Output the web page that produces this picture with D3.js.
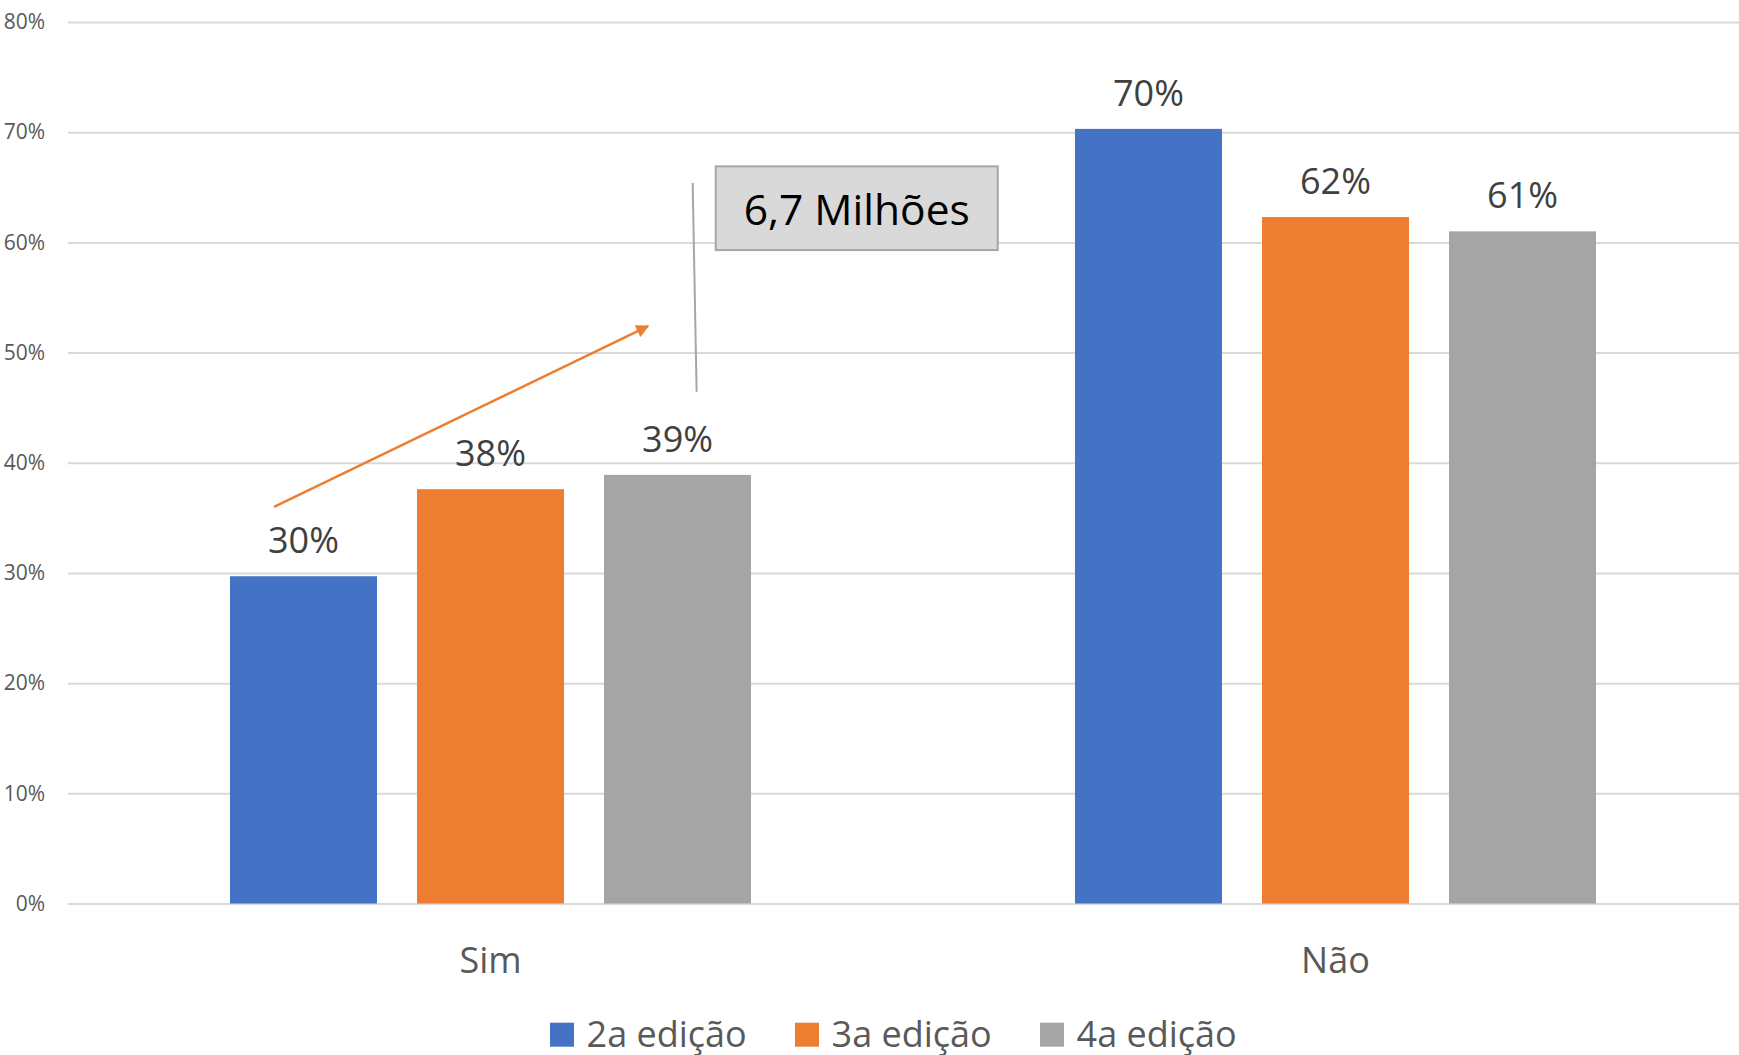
<!DOCTYPE html>
<html>
<head>
<meta charset="utf-8">
<title>Edições</title>
<script src="https://d3js.org/d3.v7.min.js"></script>
<style>
  body { margin: 0; background: #fff; }
  text { font-family: "Open Sans", sans-serif; }
</style>
</head>
<body>
<script>
var categories = ["Sim", "Não"];
var series = ["2a edição", "3a edição", "4a edição"];
var edicao2 = [0.297, 0.703];
var edicao3 = [0.376, 0.623];
var edicao4 = [0.389, 0.610];
var valueLabels = [["30%", "70%"], ["38%", "62%"], ["39%", "61%"]];
var yTicks = [0, 0.1, 0.2, 0.3, 0.4, 0.5, 0.6, 0.7, 0.8];
var calloutText = "6,7 Milhões";

var colors = ["#4472c4", "#ed7d31", "#a5a5a5"];
var seriesValues = [edicao2, edicao3, edicao4];

var chartW = 1739, chartH = 1055;
var plotLeft = 68, plotRight = 1758, plotTop = 22, plotBottom = 903.5;

var svg = d3.select("body").append("svg")
    .attr("width", chartW)
    .attr("height", chartH);

var x0 = d3.scaleBand().domain(categories).range([plotLeft, plotRight]).padding(0);
var bw = x0.bandwidth();
var x1 = d3.scaleBand().domain(series)
    .range([bw * 0.1917, bw * 0.8083])
    .paddingInner(0.214).paddingOuter(0);
var y = d3.scaleLinear().domain([0, 0.8]).range([plotBottom, plotTop]);

// gridlines
svg.append("g")
    .attr("transform", "translate(" + plotLeft + ",0)")
    .call(d3.axisLeft(y).tickValues(yTicks).tickSize(-(plotRight - plotLeft)).tickFormat(""))
    .call(g => g.select(".domain").remove())
    .call(g => g.selectAll("line").attr("stroke", "#d9d9d9").attr("stroke-width", 2));

// y labels
svg.append("g")
    .attr("transform", "translate(" + plotLeft + ",0)")
    .call(d3.axisLeft(y).tickValues(yTicks).tickSize(0).tickPadding(23).tickFormat(d3.format(".0%")))
    .call(g => g.select(".domain").remove())
    .call(g => g.selectAll("text").attr("fill", "#595959").style("font-size", "21px")
        .style("font-family", "'Open Sans', sans-serif"));

// bars
var rows = [];
series.forEach(function(s, i) {
  categories.forEach(function(c, j) {
    rows.push({ series: s, cat: c, value: seriesValues[i][j], label: valueLabels[i][j], color: colors[i] });
  });
});

svg.selectAll("rect.bar")
    .data(rows)
    .enter().append("rect")
    .attr("class", "bar")
    .attr("x", d => x0(d.cat) + x1(d.series))
    .attr("y", d => y(d.value))
    .attr("width", x1.bandwidth())
    .attr("height", d => y(0) - y(d.value))
    .attr("fill", d => d.color);

svg.selectAll("text.val")
    .data(rows)
    .enter().append("text")
    .attr("class", "val")
    .attr("x", d => x0(d.cat) + x1(d.series) + x1.bandwidth() / 2)
    .attr("y", d => y(d.value) - 23)
    .attr("text-anchor", "middle")
    .attr("fill", "#404040")
    .style("font-size", "36px")
    .text(d => d.label);

// category labels
svg.selectAll("text.cat")
    .data(categories)
    .enter().append("text")
    .attr("class", "cat")
    .attr("x", d => x0(d) + bw / 2)
    .attr("y", 972.5)
    .attr("text-anchor", "middle")
    .attr("fill", "#595959")
    .style("font-size", "36px")
    .text(d => d);

// legend
var legend = svg.selectAll("g.leg")
    .data(series)
    .enter().append("g")
    .attr("class", "leg")
    .attr("transform", (d, i) => "translate(" + (550 + i * 245) + ",1022.7)");
legend.append("rect")
    .attr("width", 24).attr("height", 24)
    .attr("fill", (d, i) => colors[i]);
legend.append("text")
    .attr("x", 36.6).attr("y", 24)
    .attr("fill", "#595959")
    .style("font-size", "36px")
    .text(d => d);

// annotation: arrow
svg.append("defs").append("marker")
    .attr("id", "head")
    .attr("viewBox", "0 0 10 10")
    .attr("refX", 9).attr("refY", 5)
    .attr("markerWidth", 14).attr("markerHeight", 13)
    .attr("markerUnits", "userSpaceOnUse")
    .attr("orient", "auto")
    .append("path")
    .attr("d", "M0,0 L10,5 L0,10 Z")
    .attr("fill", "#ed7d31");

var sx = x0("Sim");
svg.append("line")
    .attr("x1", sx + x1(series[0]) + x1.bandwidth() * 0.3)
    .attr("y1", y(0.36))
    .attr("x2", sx + x1(series[2]) + x1.bandwidth() * 0.3)
    .attr("y2", y(0.524))
    .attr("stroke", "#ed7d31")
    .attr("stroke-width", 2.5)
    .attr("marker-end", "url(#head)");

// annotation: callout
svg.append("line")
    .attr("x1", sx + x1(series[2]) + x1.bandwidth() * 0.603)
    .attr("y1", y(0.654))
    .attr("x2", sx + x1(series[2]) + x1.bandwidth() * 0.63)
    .attr("y2", y(0.4645))
    .attr("stroke", "#a6a6a6")
    .attr("stroke-width", 2);

var boxX = sx + x1(series[2]) + x1.bandwidth() * 0.76;
svg.append("rect")
    .attr("x", boxX)
    .attr("y", y(0.669))
    .attr("width", 282)
    .attr("height", y(0.593) - y(0.669))
    .attr("fill", "#d9d9d9")
    .attr("stroke", "#a6a6a6")
    .attr("stroke-width", 2);
svg.append("text")
    .attr("x", boxX + 141)
    .attr("y", 225)
    .attr("text-anchor", "middle")
    .attr("fill", "#000")
    .style("font-size", "42.5px")
    .text(calloutText);
</script>
</body>
</html>
